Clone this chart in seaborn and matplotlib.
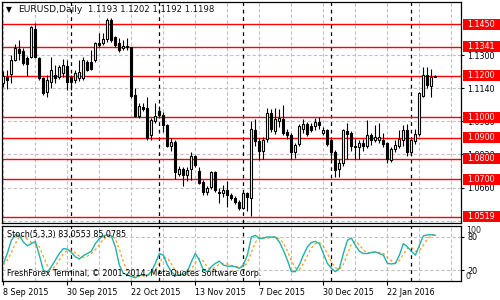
import numpy as np
import pandas as pd
import matplotlib
matplotlib.use("Agg")
import matplotlib.pyplot as plt
import matplotlib.transforms as mtransforms
from matplotlib.patches import Rectangle
import seaborn as sns

# ---------------- data ----------------
opens = [1.1165, 1.1195, 1.1208, 1.1276, 1.1329, 1.1318, 1.1285, 1.1291, 1.1426, 1.1286,
         1.1189, 1.1121, 1.1170, 1.1204, 1.1195, 1.1215, 1.1247, 1.1194, 1.1180, 1.1189,
         1.1189, 1.1266, 1.1266, 1.1276, 1.1358, 1.1358, 1.1377, 1.1469, 1.1387, 1.1358,
         1.1334, 1.1339, 1.1338, 1.1107, 1.1005, 1.1050, 1.1044, 1.0914, 1.0981, 1.1030,
         1.1010, 1.0962, 1.0860, 1.0880, 1.0726, 1.0750, 1.0721, 1.0750, 1.0812, 1.0740,
         1.0687, 1.0638, 1.0663, 1.0735, 1.0638, 1.0634, 1.0648, 1.0624, 1.0609, 1.0590,
         1.0561, 1.0634, 1.0610, 1.0938, 1.0883, 1.0836, 1.0895, 1.1020, 1.0935, 1.0980,
         1.0990, 1.0930, 1.0915, 1.0830, 1.0870, 1.0945, 1.0965, 1.0955, 1.0955, 1.0975,
         1.0925, 1.0938, 1.0890, 1.0830, 1.0748, 1.0780, 1.0935, 1.0925, 1.0860, 1.0858,
         1.0875, 1.0862, 1.0912, 1.0890, 1.0890, 1.0890, 1.0875, 1.0795, 1.0845, 1.0860,
         1.0890, 1.0940, 1.0830, 1.0885, 1.0920, 1.1100, 1.1205, 1.1150, 1.1193]
highs = [1.1223, 1.1228, 1.1300, 1.1353, 1.1373, 1.1334, 1.1295, 1.1440, 1.1455, 1.1290,
         1.1194, 1.1204, 1.1290, 1.1252, 1.1250, 1.1280, 1.1276, 1.1204, 1.1228, 1.1276,
         1.1290, 1.1276, 1.1324, 1.1363, 1.1406, 1.1406, 1.1479, 1.1479, 1.1392, 1.1382,
         1.1373, 1.1382, 1.1340, 1.1141, 1.1069, 1.1069, 1.1097, 1.0996, 1.1069, 1.1054,
         1.1025, 1.0967, 1.0900, 1.0890, 1.0764, 1.0759, 1.0759, 1.0832, 1.0817, 1.0759,
         1.0696, 1.0667, 1.0740, 1.0740, 1.0658, 1.0672, 1.0692, 1.0634, 1.0619, 1.0600,
         1.0638, 1.0638, 1.0981, 1.0990, 1.0900, 1.0905, 1.1044, 1.1040, 1.1045, 1.1040,
         1.1060, 1.0945, 1.0925, 1.0875, 1.0965, 1.0990, 1.0975, 1.0970, 1.0995, 1.1000,
         1.0950, 1.0945, 1.0895, 1.0840, 1.0800, 1.0941, 1.0971, 1.0935, 1.0895, 1.0890,
         1.0895, 1.0985, 1.0925, 1.0960, 1.0970, 1.0925, 1.0880, 1.0855, 1.0890, 1.0940,
         1.0960, 1.0965, 1.0895, 1.0945, 1.1120, 1.1240, 1.1240, 1.1235, 1.1202]
lows = [1.1146, 1.1135, 1.1165, 1.1270, 1.1276, 1.1250, 1.1200, 1.1286, 1.1286, 1.1180,
        1.1107, 1.1097, 1.1141, 1.1165, 1.1185, 1.1195, 1.1131, 1.1131, 1.1165, 1.1175,
        1.1179, 1.1223, 1.1228, 1.1266, 1.1339, 1.1348, 1.1363, 1.1365, 1.1339, 1.1315,
        1.1324, 1.1324, 1.1093, 1.1001, 1.0996, 1.1030, 1.0890, 1.0890, 1.0972, 1.1001,
        1.0928, 1.0855, 1.0836, 1.0701, 1.0716, 1.0667, 1.0692, 1.0696, 1.0759, 1.0677,
        1.0624, 1.0624, 1.0653, 1.0638, 1.0585, 1.0614, 1.0566, 1.0600, 1.0580, 1.0551,
        1.0556, 1.0546, 1.0524, 1.0860, 1.0793, 1.0800, 1.0880, 1.0930, 1.0920, 1.0950,
        1.0915, 1.0895, 1.0800, 1.0805, 1.0860, 1.0925, 1.0910, 1.0930, 1.0940, 1.0945,
        1.0915, 1.0860, 1.0800, 1.0710, 1.0712, 1.0765, 1.0800, 1.0835, 1.0800, 1.0800,
        1.0835, 1.0850, 1.0865, 1.0880, 1.0877, 1.0855, 1.0780, 1.0785, 1.0830, 1.0850,
        1.0860, 1.0810, 1.0810, 1.0870, 1.0910, 1.1095, 1.1140, 1.1095, 1.1192]
closes = [1.1199, 1.1180, 1.1276, 1.1334, 1.1310, 1.1262, 1.1255, 1.1436, 1.1291, 1.1189,
          1.1117, 1.1179, 1.1228, 1.1189, 1.1240, 1.1250, 1.1170, 1.1170, 1.1213, 1.1218,
          1.1276, 1.1228, 1.1233, 1.1358, 1.1350, 1.1377, 1.1469, 1.1373, 1.1348, 1.1324,
          1.1344, 1.1344, 1.1102, 1.1005, 1.1054, 1.1040, 1.0899, 1.0986, 1.1005, 1.1010,
          1.0962, 1.0860, 1.0880, 1.0735, 1.0750, 1.0721, 1.0745, 1.0812, 1.0769, 1.0682,
          1.0638, 1.0658, 1.0735, 1.0648, 1.0634, 1.0648, 1.0624, 1.0609, 1.0590, 1.0561,
          1.0634, 1.0614, 1.0942, 1.0883, 1.0836, 1.0890, 1.1020, 1.0942, 1.0990, 1.0995,
          1.0925, 1.0915, 1.0830, 1.0865, 1.0955, 1.0965, 1.0920, 1.0940, 1.0975, 1.0960,
          1.0938, 1.0870, 1.0830, 1.0745, 1.0778, 1.0938, 1.0920, 1.0862, 1.0855, 1.0875,
          1.0862, 1.0912, 1.0890, 1.0905, 1.0905, 1.0870, 1.0798, 1.0845, 1.0865, 1.0895,
          1.0940, 1.0830, 1.0890, 1.0920, 1.1115, 1.1205, 1.1155, 1.1195, 1.1198]

stoch_main = [32, 50, 74, 84, 83, 71, 64, 68, 72, 47, 20, 16, 26, 38, 50, 59, 58, 52, 44, 40,
              46, 50, 54, 68, 77, 82, 84, 82, 62, 29, 14, 11, 8, 6, 10, 11, 10, 17, 32, 50,
              47, 29, 17, 10, 11, 12, 17, 35, 50, 38, 20, 17, 26, 32, 36, 29, 27, 27, 26, 23,
              29, 47, 80, 83, 77, 78, 80, 80, 80, 71, 56, 38, 17, 17, 29, 47, 62, 70, 72, 68,
              50, 32, 23, 17, 23, 50, 74, 78, 65, 54, 50, 50, 52, 53, 50, 47, 32, 31, 32, 47,
              68, 62, 54, 47, 65, 82, 84, 84, 83.0553]
stoch_signal = [29, 38, 52, 68, 80, 82, 76, 70, 68, 62, 45, 28, 20, 27, 38, 49, 56, 56, 51, 45,
                43, 45, 50, 57, 66, 76, 81, 83, 76, 58, 35, 18, 11, 8, 8, 9, 10, 13, 20, 33,
                43, 42, 31, 19, 13, 11, 13, 21, 34, 41, 36, 25, 21, 25, 31, 32, 31, 28, 27, 25,
                26, 33, 52, 70, 80, 79, 78, 79, 80, 77, 69, 55, 37, 24, 21, 31, 46, 60, 68, 70,
                63, 50, 35, 24, 21, 30, 49, 67, 72, 66, 56, 51, 51, 52, 52, 50, 43, 37, 32, 37,
                49, 59, 61, 54, 55, 65, 77, 83, 85.0785]

levels = [1.1450, 1.1341, 1.1200, 1.1000, 1.0900, 1.0800, 1.0700, 1.0519]
price_grid = [1.1300, 1.1140, 1.0980, 1.0820, 1.0660, 1.0500]
price_tick_labels = [1.1300, 1.1140, 1.0980, 1.0820, 1.0660]
date_tick_bars = [0, 16, 32, 48, 64, 80, 96]
date_tick_labels = ["8 Sep 2015", "30 Sep 2015", "22 Oct 2015", "13 Nov 2015",
                    "7 Dec 2015", "30 Dec 2015", "22 Jan 2016"]
month_sep_bars = [17, 39, 60, 82, 102]
header_symbol = "EURUSD,Daily"
header_ohlc = "1.1193 1.1202 1.1192 1.1198"
stoch_title = "Stoch(5,3,3) 83,0553 85,0785"
footer = "FreshForex Terminal, \u00a9 2001-2014, MetaQuotes Software Corp."

# ---------------- style ----------------
sns.set_style("white")
plt.rcParams['font.family'] = ['DejaVu Sans']

W, H = 500, 300
fig = plt.figure(figsize=(5, 3), dpi=100)
fig.patch.set_facecolor("white")


def box(x0, y0, x1, y1):
    return [x0 / W, 1 - y1 / H, (x1 - x0) / W, (y1 - y0) / H]


ax = fig.add_axes(box(2, 2, 461, 223))
ax2 = fig.add_axes(box(2, 226, 461, 281))

n = len(closes)
bars = np.arange(n)
O = np.array(opens); Hh = np.array(highs); L = np.array(lows); C = np.array(closes)
XMIN, XMAX = -0.33, 114.4

for a in (ax, ax2):
    a.set_xlim(XMIN, XMAX)
    a.set_facecolor("white")
    for s in a.spines.values():
        s.set_color("black")
        s.set_linewidth(0.9)
    for b in range(0, 115, 8):
        a.axvline(b, color="#c0c0c0", lw=0.8, ls=(0, (3, 2)), zorder=1)
    for b in month_sep_bars:
        a.axvline(b, color="black", lw=0.9, ls=(0, (3, 3)), zorder=1.5)

# ---- main price panel ----
ax.set_ylim(1.04886, 1.15563)
for p in price_grid:
    ax.axhline(p, color="#c0c0c0", lw=0.8, ls=(0, (3, 2)), zorder=1)
for lv in levels:
    ax.axhline(lv, color="red", lw=1.0, zorder=2)

up = C >= O
body_lo = np.minimum(O, C)
body_h = np.maximum(np.abs(C - O), 0.00004)
ax.vlines(bars, L, Hh, color="black", lw=0.8, zorder=3)
ax.bar(bars[up], body_h[up], bottom=body_lo[up], width=0.55, color="white",
       edgecolor="black", linewidth=0.8, zorder=4)
ax.bar(bars[~up], body_h[~up], bottom=body_lo[~up], width=0.55, color="black",
       edgecolor="black", linewidth=0.8, zorder=4)

ax.yaxis.tick_right()
ax.set_yticks(price_tick_labels)
ax.set_yticklabels([f"{p:.4f}" for p in price_tick_labels])
ax.tick_params(axis="y", labelsize=5.8, length=2.5, width=0.8, pad=2, colors="black")
ax.tick_params(axis="x", bottom=False, labelbottom=False)
ax.set_xlabel(""); ax.set_ylabel("")

trans = mtransforms.blended_transform_factory(ax.transAxes, ax.transData)
bw = (500 - 463) / 459
bh = 11 / 2070
for lv in levels:
    ax.add_patch(Rectangle(((463 - 2) / 459, lv - bh / 2), bw, bh, transform=trans,
                           facecolor="red", edgecolor="none", clip_on=False, zorder=10))
    ax.text((481 - 2) / 459, lv, f"{lv:.4f}", transform=trans, color="white",
            fontsize=5.8, ha="center", va="center", clip_on=False, zorder=11)

# ---- stochastic panel ----
df = pd.DataFrame({"bar": bars, "main": stoch_main, "signal": stoch_signal})
ax2.set_ylim(0, 100)
ax2.axhline(80, color="#c0c0c0", lw=0.8, ls=(0, (3, 2)), zorder=1)
ax2.axhline(20, color="#c0c0c0", lw=0.8, ls=(0, (3, 2)), zorder=1)
sns.lineplot(data=df, x="bar", y="signal", ax=ax2, color="#ff9a1a", lw=0.9,
             linestyle=(0, (2, 2)), zorder=3)
sns.lineplot(data=df, x="bar", y="main", ax=ax2, color="#20b2aa", lw=1.0, zorder=4)
ax2.set_xlim(XMIN, XMAX)
ax2.set_xlabel(""); ax2.set_ylabel("")
ax2.yaxis.tick_right()
ax2.set_yticks([80, 20])
ax2.set_yticklabels(["80", "20"])
ax2.tick_params(axis="y", labelsize=5.8, length=2.5, width=0.8, pad=2, colors="black")
t2 = mtransforms.blended_transform_factory(ax2.transAxes, ax2.transData)
ax2.text((466 - 2) / 459, 100, "100", transform=t2, fontsize=5.8, ha="left", va="top",
         clip_on=False)
ax2.text((466 - 2) / 459, 0, "0", transform=t2, fontsize=5.8, ha="left", va="bottom",
         clip_on=False)
ax2.set_xticks(date_tick_bars)
ax2.set_xticklabels(date_tick_labels, ha="left")
ax2.tick_params(axis="x", labelsize=5.8, length=3, width=0.8, pad=2, colors="black",
                bottom=True)

# ---- texts ----
fig.text(6 / W, 1 - 10 / H, "\u25bc", fontsize=5.5, ha="left", va="center", color="black")
fig.text(18 / W, 1 - 10 / H, header_symbol, fontsize=6.6, ha="left", va="center",
         color="#111111")
fig.text(88 / W, 1 - 10 / H, header_ohlc, fontsize=6.1, ha="left", va="center",
         color="#111111")
fig.text(7 / W, 1 - 235 / H, stoch_title, fontsize=5.8, ha="left", va="center",
         color="black", zorder=20)
fig.text(7 / W, 1 - 274 / H, footer, fontsize=5.8, ha="left", va="center",
         color="black", zorder=20)

fig.savefig("out.png", dpi=100, facecolor="white")
